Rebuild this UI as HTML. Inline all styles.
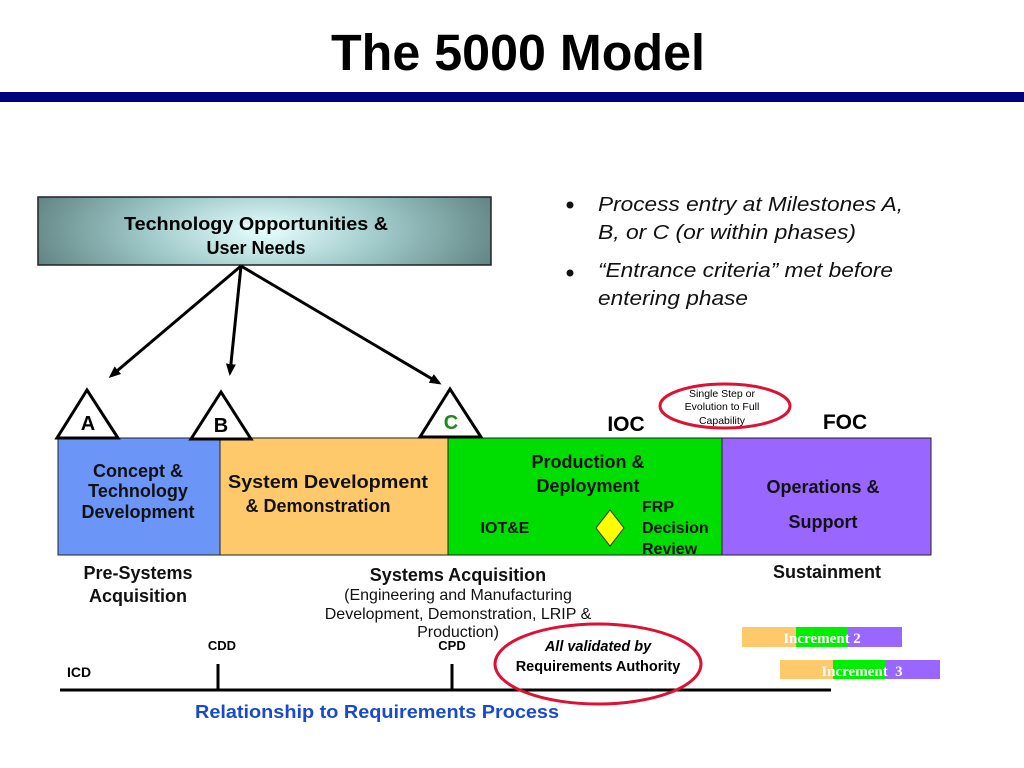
<!DOCTYPE html>
<html><head><meta charset="utf-8"><style>
body{margin:0;background:#fff}
svg{display:block;font-family:"Liberation Sans",Arial,sans-serif}
</style></head><body>
<svg width="1024" height="768" viewBox="0 0 1024 768" xmlns="http://www.w3.org/2000/svg">
<defs>
<radialGradient id="g" cx="0.5" cy="0.5" r="0.55" gradientTransform="translate(0.5 0.5) scale(1 2.5) translate(-0.5 -0.5)">
<stop offset="0" stop-color="#e6ffff"/><stop offset="0.5" stop-color="#9cc6c6"/><stop offset="1" stop-color="#5f8080"/>
</radialGradient>
<marker id="ah" markerWidth="12" markerHeight="10" refX="9" refY="5" orient="auto" markerUnits="userSpaceOnUse"><path d="M0,0 L12,5 L0,10 z" fill="#000"/></marker>
</defs>
<text x="518" y="70" font-size="51" font-weight="bold" text-anchor="middle" textLength="374" lengthAdjust="spacingAndGlyphs">The 5000 Model</text>
<rect x="0" y="92" width="1024" height="10" fill="#000080"/>

<rect x="38" y="197" width="453" height="68" fill="url(#g)" stroke="#222" stroke-width="1.5"/>
<text x="256" y="230" font-size="18" font-weight="bold" text-anchor="middle" textLength="264" lengthAdjust="spacingAndGlyphs">Technology Opportunities &amp;</text>
<text x="256" y="254" font-size="18" font-weight="bold" text-anchor="middle">User Needs</text>
<g stroke="#000" stroke-width="3" marker-end="url(#ah)">
<line x1="241" y1="266" x2="111" y2="376"/>
<line x1="241" y1="266" x2="230" y2="373"/>
<line x1="241" y1="266" x2="439" y2="383"/>
</g>

<g font-size="20" font-style="italic" fill="#111">
<circle cx="570" cy="205" r="3.5"/><text x="598" y="211" textLength="305" lengthAdjust="spacingAndGlyphs">Process entry at Milestones A,</text>
<text x="598" y="239" textLength="258" lengthAdjust="spacingAndGlyphs">B, or C (or within phases)</text>
<circle cx="570" cy="273" r="3.5"/><text x="598" y="277" textLength="295" lengthAdjust="spacingAndGlyphs">“Entrance criteria” met before</text>
<text x="598" y="305" textLength="150" lengthAdjust="spacingAndGlyphs">entering phase</text>
</g>

<rect x="58" y="438" width="162" height="117" fill="#6b95f7" stroke="#222"/>
<rect x="220" y="438" width="228" height="117" fill="#fdc96b" stroke="#222"/>
<rect x="448" y="438" width="274" height="117" fill="#00dd00" stroke="#222"/>
<rect x="722" y="438" width="209" height="117" fill="#9966ff" stroke="#222"/>

<g stroke="#000" stroke-width="3" fill="#fff">
<polygon points="87,390 57,438 118,438"/>
<polygon points="221,392 191,439 251,439"/>
<polygon points="450,389 420,437 481,437"/>
</g>
<g font-size="20" font-weight="bold" text-anchor="middle">
<text x="88" y="430">A</text><text x="221" y="432">B</text><text x="451" y="429" fill="#1a8a1a">C</text>
<text x="626" y="431" font-size="21">IOC</text><text x="845" y="429" font-size="21">FOC</text>
</g>
<ellipse cx="725" cy="406" rx="65" ry="22" fill="#fff" stroke="#dd1133" stroke-width="3"/>
<g font-size="10.5" text-anchor="middle"><text x="722" y="397">Single Step or</text><text x="722" y="410">Evolution to Full</text><text x="722" y="424">Capability</text></g>

<g font-size="18" font-weight="bold" text-anchor="middle" fill="#111">
<text x="138" y="477">Concept &amp;</text><text x="138" y="497">Technology</text><text x="138" y="518">Development</text>
<text x="328" y="488" textLength="200" lengthAdjust="spacingAndGlyphs">System Development</text><text x="318" y="512">&amp; Demonstration</text>
<text x="588" y="468">Production &amp;</text><text x="588" y="492">Deployment</text>
<text x="505" y="533" font-size="16">IOT&amp;E</text>
<text x="642" y="512" font-size="16" text-anchor="start">FRP</text>
<text x="642" y="533" font-size="16" text-anchor="start">Decision</text>
<text x="642" y="554" font-size="16" text-anchor="start">Review</text>
<text x="823" y="493">Operations &amp;</text><text x="823" y="528">Support</text>
<text x="138" y="579">Pre-Systems</text><text x="138" y="602">Acquisition</text>
<text x="458" y="581">Systems Acquisition</text>
<text x="827" y="578">Sustainment</text>
</g>
<polygon points="610,510 624,528 610,546 596,528" fill="#ffff00" stroke="#333"/>
<g font-size="16" text-anchor="middle" fill="#111">
<text x="458" y="600">(Engineering and Manufacturing</text>
<text x="458" y="619">Development, Demonstration, LRIP &amp;</text>
<text x="458" y="637">Production)</text>
</g>

<rect x="742" y="627" width="54" height="20" fill="#fdc96b"/><rect x="796" y="627" width="52" height="20" fill="#00ee00"/><rect x="848" y="627" width="54" height="20" fill="#9966ff"/>
<text x="822" y="643" font-family="Liberation Serif,serif" font-size="15" font-weight="bold" fill="#fff" text-anchor="middle">Increment 2</text>
<rect x="780" y="660" width="53" height="19" fill="#fdc96b"/><rect x="833" y="660" width="53" height="19" fill="#00ee00"/><rect x="886" y="660" width="54" height="19" fill="#9966ff"/>
<text x="862" y="676" font-family="Liberation Serif,serif" font-size="15" font-weight="bold" fill="#fff" text-anchor="middle" xml:space="preserve">Increment  3</text>

<line x1="60" y1="690" x2="831" y2="690" stroke="#000" stroke-width="3"/>
<line x1="218" y1="664" x2="218" y2="690" stroke="#000" stroke-width="3"/>
<line x1="452" y1="664" x2="452" y2="690" stroke="#000" stroke-width="3"/>
<g font-size="14" font-weight="bold">
<text x="67" y="677">ICD</text>
<text x="222" y="650" font-size="13" text-anchor="middle">CDD</text>
<text x="452" y="650" font-size="13" text-anchor="middle">CPD</text>
</g>
<ellipse cx="598" cy="664" rx="103" ry="40" fill="none" stroke="#dd1133" stroke-width="3"/>
<text x="598" y="651" font-size="14.5" font-weight="bold" font-style="italic" text-anchor="middle">All validated by</text>
<text x="598" y="671" font-size="14.5" font-weight="bold" text-anchor="middle">Requirements Authority</text>
<text x="377" y="718" font-size="18" font-weight="bold" fill="#1a4acc" text-anchor="middle" textLength="364" lengthAdjust="spacingAndGlyphs">Relationship to Requirements Process</text>
</svg>
</body></html>
